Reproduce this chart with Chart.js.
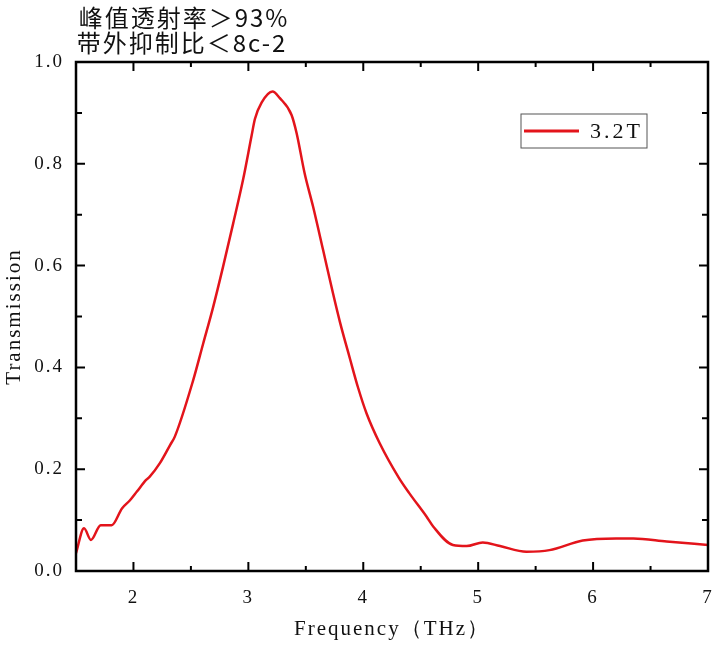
<!DOCTYPE html>
<html>
<head>
<meta charset="utf-8">
<script src="https://cdn.jsdelivr.net/npm/chart.js@4/dist/chart.umd.min.js"></script>
<style>
  body { margin: 0; background: #fff; }
  #wrap { width: 720px; height: 650px; }
</style>
</head>
<body>
<div id="wrap"><canvas id="chart"></canvas></div>
<script>
// curve
const freq = [1.50, 1.57, 1.63, 1.715, 1.81, 1.90, 1.97, 2.03, 2.11, 2.14, 2.23, 2.32, 2.36, 2.52, 2.607,
              2.694, 2.78, 2.868, 2.955, 3.028, 3.057, 3.115, 3.21, 3.274, 3.376, 3.42, 3.49, 3.563, 3.65,
              3.737, 3.796, 3.883, 3.955, 4.028, 4.143, 4.31, 4.40, 4.55, 4.61, 4.78, 4.90, 5.04, 5.19, 5.42, 5.62,
              5.91, 6.20, 6.35, 6.64, 7.00];
const trans = [0.035, 0.084, 0.061, 0.090, 0.090, 0.123, 0.139, 0.156, 0.179, 0.185, 0.212, 0.248, 0.264, 0.375, 0.447,
               0.519, 0.598, 0.683, 0.770, 0.855, 0.888, 0.920, 0.942, 0.929, 0.896, 0.860, 0.781, 0.716, 0.631,
               0.545, 0.490, 0.418, 0.360, 0.310, 0.251, 0.183, 0.153, 0.107, 0.087, 0.051, 0.049, 0.056, 0.049, 0.038, 0.041,
               0.060, 0.064, 0.064, 0.058, 0.051];

const xTicks = [2, 3, 4, 5, 6, 7];
const xMinor = [2.5, 3.5, 4.5, 5.5, 6.5];
const yTicks = [0.0, 0.2, 0.4, 0.6, 0.8, 1.0];
const yMinor = [0.1, 0.3, 0.5, 0.7, 0.9];

const seriesName = '3.2T';
const titleLines = ['峰值透射率＞93%', '带外抑制比＜8c-2'];

const red = '#e3141b';
const serif = '"Liberation Serif", "DejaVu Serif", serif';

// inward ticks on all four sides + frame
const frameTicks = {
    id: 'frameTicks',
    afterDatasetsDraw(chart) {
        const ctx = chart.ctx, a = chart.chartArea;
        const xs = chart.scales.x, ys = chart.scales.y;
        ctx.save();
        ctx.strokeStyle = '#000';
        ctx.lineWidth = 2.5;
        ctx.strokeRect(a.left, a.top, a.right - a.left, a.bottom - a.top);
        ctx.lineWidth = 2;
        function xt(v, len) {
            const p = xs.getPixelForValue(v);
            ctx.beginPath();
            ctx.moveTo(p, a.bottom); ctx.lineTo(p, a.bottom - len);
            ctx.moveTo(p, a.top); ctx.lineTo(p, a.top + len);
            ctx.stroke();
        }
        function yt(v, len) {
            const p = ys.getPixelForValue(v);
            ctx.beginPath();
            ctx.moveTo(a.left, p); ctx.lineTo(a.left + len, p);
            ctx.moveTo(a.right, p); ctx.lineTo(a.right - len, p);
            ctx.stroke();
        }
        xTicks.forEach(v => xt(v, 9));
        xMinor.forEach(v => xt(v, 5));
        yTicks.forEach(v => yt(v, 9));
        yMinor.forEach(v => yt(v, 6));
        ctx.restore();
    }
};

// boxed legend inside the plot, upper right
const boxLegend = {
    id: 'boxLegend',
    afterDraw(chart) {
        const ctx = chart.ctx, a = chart.chartArea;
        const ds = chart.data.datasets[0];
        const w = 126, h = 34;
        const x0 = a.right - 61 - w, y0 = a.top + 52;
        ctx.save();
        ctx.strokeStyle = '#555';
        ctx.lineWidth = 1;
        ctx.strokeRect(x0, y0, w, h);
        ctx.strokeStyle = ds.borderColor;
        ctx.lineWidth = 3;
        ctx.beginPath();
        ctx.moveTo(x0 + 3, y0 + h / 2);
        ctx.lineTo(x0 + 58, y0 + h / 2);
        ctx.stroke();
        ctx.fillStyle = '#111';
        ctx.font = '22px ' + serif;
        ctx.letterSpacing = '3px';
        ctx.textBaseline = 'middle';
        ctx.fillText(ds.label, x0 + 69, y0 + h / 2 + 1);
        ctx.restore();
    }
};

// two-line note above the plot
const noteTitle = {
    id: 'noteTitle',
    afterDraw(chart) {
        const ctx = chart.ctx, a = chart.chartArea;
        ctx.save();
        ctx.fillStyle = '#111';
        ctx.font = '24px "Noto Sans CJK SC", sans-serif';
        ctx.textAlign = 'center';
        ctx.textBaseline = 'middle';
        ctx.fillText(titleLines[0], a.left + 108, 18);
        ctx.fillText(titleLines[1], a.left + 106, 43);
        ctx.restore();
    }
};

const spacing = {
    id: 'spacing',
    beforeDraw(chart) { chart.ctx.letterSpacing = '2px'; }
};

const ctx = document.getElementById('chart');
new Chart(ctx, {
    type: 'line',
    data: {
        datasets: [{
            label: seriesName,
            data: freq.map((f, i) => ({ x: f, y: trans[i] })),
            borderColor: red,
            borderWidth: 2.5,
            pointRadius: 0,
            fill: false,
            cubicInterpolationMode: 'monotone'
        }]
    },
    options: {
        responsive: true,
        maintainAspectRatio: false,
        animation: false,
        layout: { padding: { top: 62, right: 12, bottom: 0, left: 0 } },
        plugins: {
            legend: { display: false },
            tooltip: { enabled: false }
        },
        scales: {
            x: {
                type: 'linear',
                min: 1.5,
                max: 7,
                afterBuildTicks: s => { s.ticks = xTicks.map(v => ({ value: v })); },
                afterFit: s => { s.height = 79; s.paddingLeft = 0; s.paddingRight = 0; },
                grid: { display: false, drawTicks: false },
                border: { display: false },
                ticks: {
                    padding: 16,
                    color: '#111',
                    font: { family: serif, size: 19 },
                    callback: v => String(v)
                },
                title: {
                    display: true,
                    text: 'Frequency（THz）',
                    color: '#111',
                    font: { family: serif, size: 21 },
                    padding: { top: 4, bottom: 8 }
                }
            },
            y: {
                min: 0,
                max: 1,
                afterBuildTicks: s => { s.ticks = yTicks.map(v => ({ value: v })); },
                afterFit: s => { s.width = 76; s.paddingTop = 0; s.paddingBottom = 0; },
                grid: { display: false, drawTicks: false },
                border: { display: false },
                ticks: {
                    padding: 12,
                    color: '#111',
                    font: { family: serif, size: 19 },
                    callback: v => v.toFixed(1)
                },
                title: {
                    display: true,
                    text: 'Transmission',
                    color: '#111',
                    font: { family: serif, size: 21 },
                    padding: { top: 2, bottom: 0 }
                }
            }
        }
    },
    plugins: [spacing, frameTicks, boxLegend, noteTitle]
});
</script>
</body>
</html>
